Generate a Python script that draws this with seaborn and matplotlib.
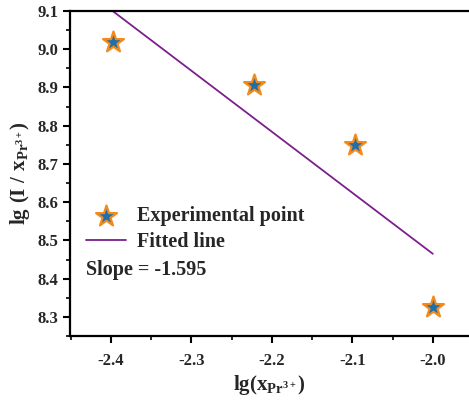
import numpy as np
import pandas as pd
import seaborn as sns
import matplotlib.pyplot as plt
from matplotlib.ticker import MultipleLocator

# measured points: lg(x_Pr3+) vs lg(I / x_Pr3+)
lg_x = [-2.398, -2.222, -2.097, -2.0]
lg_ratio = [9.019, 8.906, 8.750, 8.327]

# fitted line end points
fit_x = [-2.398, -2.0]
fit_y = [9.100, 8.465]
slope_text = "Slope = -1.595"

x_ticks = [-2.4, -2.3, -2.2, -2.1, -2.0]
y_ticks = [8.3, 8.4, 8.5, 8.6, 8.7, 8.8, 8.9, 9.0, 9.1]

sns.set_style("ticks")
plt.rcParams["font.family"] = ["Liberation Serif", "DejaVu Serif"]
plt.rcParams["font.weight"] = "bold"
plt.rcParams["mathtext.fontset"] = "custom"
plt.rcParams["mathtext.rm"] = "Liberation Serif:bold"
plt.rcParams["mathtext.it"] = "Liberation Serif:bold"
plt.rcParams["mathtext.bf"] = "Liberation Serif:bold"
plt.rcParams["mathtext.default"] = "bf"

fig = plt.figure(figsize=(4.69, 4.01), dpi=100)
ax = fig.add_axes([70 / 469, 65 / 401, 399 / 469, 325 / 401])

pts = pd.DataFrame({"x": lg_x, "y": lg_ratio})
sns.scatterplot(data=pts, x="x", y="y", marker="*", s=250, color="#1f6fa8",
                edgecolor="#f28a1e", linewidth=1.6, label="Experimental point",
                ax=ax, zorder=3)
sns.lineplot(x=fit_x, y=fit_y, color="#7b1f8c", linewidth=1.3,
             label="Fitted line", ax=ax)

ax.set_xlim(-2.451, -1.955)
ax.set_ylim(8.25, 9.1)
ax.set_xticks(x_ticks)
ax.set_yticks(y_ticks)
ax.set_xticklabels(["{:.1f}".format(v) for v in x_ticks])
ax.set_yticklabels(["{:.1f}".format(v) for v in y_ticks])
ax.xaxis.set_minor_locator(MultipleLocator(0.05))
ax.yaxis.set_minor_locator(MultipleLocator(0.05))
ax.tick_params(which="major", length=5, width=1.5, labelsize=12, color="black")
ax.tick_params(which="minor", length=3, width=1.2, color="black")
ax.tick_params(axis="x", pad=7)

for side in ["left", "bottom", "top"]:
    ax.spines[side].set_linewidth(1.6)
    ax.spines[side].set_color("black")
ax.spines["right"].set_visible(False)

ax.set_xlabel(r"$\mathbf{lg(x_{Pr^{3+}})}$", fontsize=15, labelpad=3)
ax.set_ylabel(r"$\mathbf{lg\ (I\ /\ x_{Pr^{3+}})}$", fontsize=15, labelpad=4)

ax.legend(loc="upper left", bbox_to_anchor=(0.04, 0.40), frameon=False,
          fontsize=14.5, handlelength=2.0, handletextpad=0.55,
          labelspacing=0.3, borderpad=0, borderaxespad=0)
ax.text(0.04, 0.203, slope_text, transform=ax.transAxes, fontsize=14.5,
        fontweight="bold", va="center", ha="left")

fig.savefig("out.png", dpi=100)
